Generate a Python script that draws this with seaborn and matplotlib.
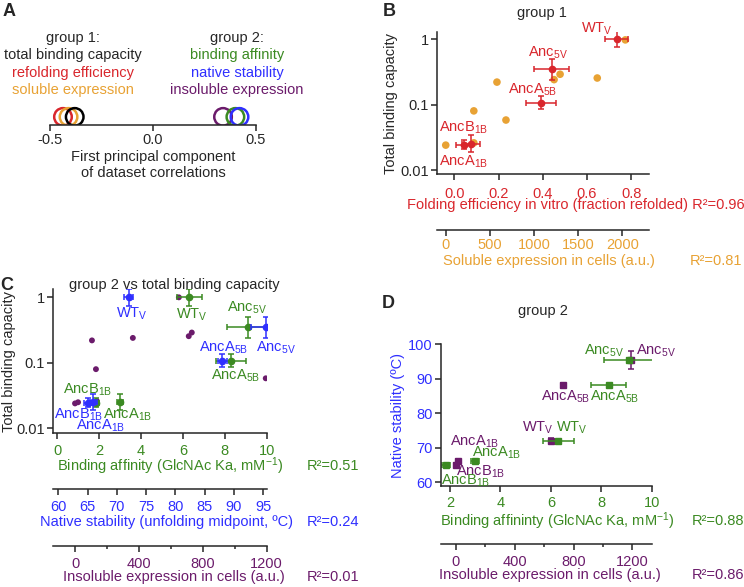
import numpy as np
import pandas as pd
import matplotlib
matplotlib.use("Agg")
import matplotlib.pyplot as plt
import seaborn as sns

sns.set_style("ticks")
plt.rcParams["font.family"] = ["Liberation Sans", "DejaVu Sans"]
plt.rcParams["mathtext.default"] = "regular"
plt.rcParams["font.size"] = 10.5
plt.rcParams["axes.linewidth"] = 1.1
plt.rcParams["xtick.major.width"] = 1.1
plt.rcParams["ytick.major.width"] = 1.1
plt.rcParams["xtick.major.size"] = 4
plt.rcParams["ytick.major.size"] = 4

RED = "#d9262c"
ORANGE = "#e8a234"
GREEN = "#3b8a22"
BLUE = "#2f2fff"
PURPLE = "#6b1b6b"

# A: loadings on the first principal component
pc_props = ["refolding efficiency", "soluble expression", "total binding capacity",
            "insoluble expression", "binding affinity", "native stability"]
pc1 = [-0.437, -0.41, -0.38, 0.34, 0.40, 0.42]
pc_colors = [RED, ORANGE, "black", PURPLE, GREEN, BLUE]

# variants with error bars
variants = ["AncA$_{1B}$", "AncB$_{1B}$", "AncA$_{5B}$", "Anc$_{5V}$", "WT$_{V}$"]
binding = [0.025, 0.024, 0.107, 0.35, 1.0]
binding_lo = [0.019, 0.021, 0.085, 0.24, 0.75]
binding_hi = [0.034, 0.029, 0.135, 0.50, 1.32]
folding = [0.077, 0.042, 0.39, 0.44, 0.735]
folding_err = [0.04, 0.035, 0.068, 0.08, 0.052]
affinity = [3.0, 1.84, 8.3, 9.1, 6.3]
affinity_err = [0.15, 0.15, 0.7, 1.0, 0.6]
stability = [66, 65, 88, 95.4, 72]
stability_err = [0.6, 0.6, 0.8, 2.5, 0.7]
insoluble = [14, 0, 730, 1190, 648]

# expression measurements (all proteins)
sol_expr = [2034, 1716, 1295, 1227, 580, 318, 682, 0, 318]
sol_binding = [0.97, 0.254, 0.29, 0.24, 0.22, 0.08, 0.058, 0.024, 0.026]
insol_expr = [650, 731, 712, 362, 106, 131, 1194, 0, 19, 137]
insol_binding = [1.0, 0.29, 0.255, 0.24, 0.22, 0.08, 0.058, 0.024, 0.025, 0.026]

W, H = 744, 587
fig = plt.figure(figsize=(W / 100, H / 100), dpi=100)


def box(l, t, r, b):
    return [l / W, 1 - b / H, (r - l) / W, (b - t) / H]


def ftext(x, y, s, **kw):
    kw.setdefault("ha", "center")
    kw.setdefault("va", "center")
    fig.text(x / W, 1 - y / H, s, **kw)


def extra_xaxis(ax, offset, lim, ticks, color, minor=None, pad=4):
    tw = ax.twiny()
    tw.set_xlim(lim)
    for s in ["top", "left", "right"]:
        tw.spines[s].set_visible(False)
    tw.spines["bottom"].set_visible(True)
    tw.spines["bottom"].set_position(("outward", offset))
    tw.xaxis.set_ticks_position("bottom")
    tw.set_xticks(ticks)
    tw.set_xticklabels([str(t) for t in ticks])
    if minor is not None:
        tw.set_xticks(minor, minor=True)
        tw.tick_params(axis="x", which="minor", length=2.5, width=1.1, bottom=True)
    tw.tick_params(axis="x", labelcolor=color, pad=pad)
    tw.patch.set_visible(False)
    return tw


def main_axes(rect):
    ax = fig.add_axes(rect)
    ax.spines["top"].set_visible(False)
    ax.spines["right"].set_visible(False)
    ax.patch.set_visible(False)
    return ax


def label_points(ax, xs, ys, offsets, color):
    for name, x, y, (dx, dy) in zip(variants, xs, ys, offsets):
        ax.annotate(name, xy=(x, y), xytext=(dx, dy), textcoords="offset pixels",
                    ha="center", va="center", color=color)


def log_yaxis(ax, lim):
    ax.set_yscale("log")
    ax.set_ylim(lim)
    ax.set_yticks([0.01, 0.1, 1])
    ax.set_yticklabels(["0.01", "0.1", "1"])
    ax.yaxis.set_minor_locator(matplotlib.ticker.NullLocator())
    ax.tick_params(axis="y", pad=2)


bar_kw = dict(capsize=2.5, elinewidth=1.1, capthick=1.1, ms=4.5, lw=0)

# ---------------- A ----------------
axA = main_axes(box(50, 95, 256, 125))
axA.spines["left"].set_visible(False)
sns.scatterplot(x=pc1, y=[0.27] * len(pc1), ax=axA, s=160, marker="o",
                facecolors="none", edgecolor=pc_colors, linewidth=1.8, legend=False)
axA.set_xlim(-0.5, 0.5)
axA.set_ylim(0, 1)
axA.set_yticks([])
axA.set_xticks([-0.5, 0, 0.5])
axA.set_xticklabels(["-0.5", "0.0", "0.5"])
axA.tick_params(axis="x", pad=2)
axA.set_xlabel("First principal component\nof dataset correlations", labelpad=2)
ftext(73, 38, "group 1:")
ftext(73, 55, "total binding capacity")
ftext(73, 73, "refolding efficiency", color=RED)
ftext(73, 90, "soluble expression", color=ORANGE)
ftext(237, 38, "group 2:")
ftext(237, 55, "binding affinity", color=GREEN)
ftext(237, 73, "native stability", color=BLUE)
ftext(237, 90, "insoluble expression", color=PURPLE)

# ---------------- B ----------------
axB = main_axes(box(437, 32, 649, 174))
log_yaxis(axB, (0.0087, 1.28))
axB_s = extra_xaxis(axB, 40.3, (-99, 2302), [0, 500, 1000, 1500, 2000], ORANGE, pad=1.5)
sns.scatterplot(x=sol_expr, y=sol_binding, ax=axB_s, color=ORANGE, s=30,
                edgecolor="none", legend=False)
axB_s.set_xlim(-99, 2302)
axB.errorbar(folding, binding, xerr=folding_err,
             yerr=[np.subtract(binding, binding_lo), np.subtract(binding_hi, binding)],
             fmt="o", color=RED, **bar_kw)
axB.set_xlim(-0.078, 0.88)
axB.set_xticks([0, 0.2, 0.4, 0.6, 0.8])
axB.set_xticklabels(["0.0", "0.2", "0.4", "0.6", "0.8"])
axB.tick_params(axis="x", labelcolor=RED, pad=5)
axB.set_zorder(axB_s.get_zorder() + 1)
label_points(axB, folding, binding, [(-8, -18), (0, 17), (-8, 13), (-4, 16), (-20, 10)], RED)
ftext(542, 13, "group 1")
ftext(391, 103, "Total binding capacity", rotation=90)
ftext(407, 205, "Folding efficiency in vitro (fraction refolded) R²=0.96", color=RED, ha="left")
ftext(443, 261, "Soluble expression in cells (a.u.)", color=ORANGE, ha="left")
ftext(690, 261, "R²=0.81", color=ORANGE, ha="left")

# ---------------- C ----------------
axC = main_axes(box(53.3, 289, 266.7, 433))
log_yaxis(axC, (0.00848, 1.34))
axC_p = extra_xaxis(axC, 81.4, (-136, 1200), [0, 400, 800, 1200], PURPLE, minor=[200, 600, 1000])
axC_b = extra_xaxis(axC, 40.3, (59.15, 95.58), [60, 65, 70, 75, 80, 85, 90, 95], BLUE)
sns.scatterplot(x=insol_expr, y=insol_binding, ax=axC_p, color=PURPLE, s=18,
                edgecolor="none", legend=False)
axC_p.set_xlim(-136, 1200)
yerr = [np.subtract(binding, binding_lo), np.subtract(binding_hi, binding)]
axC.errorbar(affinity, binding, xerr=affinity_err, yerr=yerr, fmt="o", color=GREEN, **bar_kw)
axC_b.errorbar(stability, binding, xerr=stability_err, yerr=yerr, fmt="o", color=BLUE, **bar_kw)
axC_b.set_xlim(59.15, 95.58)
axC.set_xlim(-0.19, 10.0)
axC.set_xticks([0, 2, 4, 6, 8, 10])
axC.tick_params(axis="x", labelcolor=GREEN, pad=4)
axC_p.set_zorder(1)
axC.set_zorder(2)
axC_b.set_zorder(3)
label_points(axC, affinity, binding, [(7, -13), (-8, 14), (4, -15), (-1, 19), (3, -17)], GREEN)
label_points(axC_b, stability, binding, [(7, -24), (-9, -11), (1, 13), (10, -21), (3, -16)], BLUE)
ftext(174, 285, "group 2 vs total binding capacity")
ftext(9, 362, "Total binding capacity", rotation=90)
ftext(57, 466, "Binding affinity (GlcNAc Ka, mM$^{-1}$)", color=GREEN, ha="left")
ftext(307, 466, "R²=0.51", color=GREEN, ha="left")
ftext(40, 522, "Native stability (unfolding midpoint, ºC)", color=BLUE, ha="left")
ftext(307, 522, "R²=0.24", color=BLUE, ha="left")
ftext(63, 577, "Insoluble expression in cells (a.u.)", color=PURPLE, ha="left")
ftext(307, 577, "R²=0.01", color=PURPLE, ha="left")

# ---------------- D ----------------
axD = main_axes(box(441, 344, 651.7, 486))
axD_p = extra_xaxis(axD, 41.8, (-102, 1332), [0, 400, 800, 1200], PURPLE, minor=[200, 600, 1000])
axD_p.errorbar(insoluble, stability, yerr=stability_err, fmt="s", color=PURPLE, **bar_kw)
axD_p.set_xlim(-102, 1332)
axD.errorbar(affinity, stability, xerr=affinity_err, fmt="s", color=GREEN, **bar_kw)
axD.set_xlim(1.64, 10)
axD.set_ylim(58.9, 100)
axD.set_xticks([2, 4, 6, 8, 10])
axD.set_yticks([60, 70, 80, 90, 100])
axD.tick_params(axis="x", labelcolor=GREEN, pad=3)
axD.tick_params(axis="y", labelcolor=BLUE, pad=2)
axD_p.set_zorder(1)
axD.set_zorder(2)
label_points(axD, affinity, stability, [(21, 9), (20, -16), (6, -11), (-25, 9), (13, 13)], GREEN)
label_points(axD_p, insoluble, stability, [(17, 20), (25, -7), (2, -11), (25, 9), (-13, 13)], PURPLE)
ftext(543, 311, "group 2")
ftext(398, 415, "Native stability (ºC)", rotation=90, color=BLUE)
ftext(440, 521, "Binding affininty (GlcNAc Ka, mM$^{-1}$)", color=GREEN, ha="left")
ftext(692, 521, "R²=0.88", color=GREEN, ha="left")
ftext(439, 575, "Insoluble expression in cells (a.u.)", color=PURPLE, ha="left")
ftext(692, 575, "R²=0.86", color=PURPLE, ha="left")

# panel letters
for letter, x, y in [("A", 9, 11), ("B", 389, 11), ("C", 7, 285), ("D", 388, 303)]:
    ftext(x, y, letter, fontsize=13, fontweight="bold")

fig.savefig("out.png", dpi=100)
